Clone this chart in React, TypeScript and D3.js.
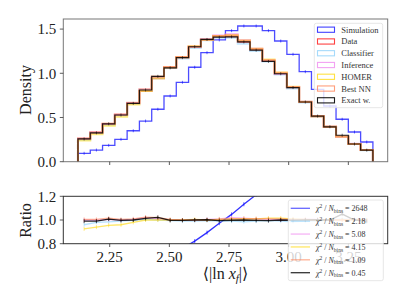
import React, { useEffect, useRef } from "react";
import * as d3 from "d3";

// binning of <|ln x_f|>
const binStart = 2.117;
const binWidth = 0.0515;

// densities
const dataDensity = [0.26, 0.33, 0.425, 0.53, 0.66, 0.8, 0.945, 1.065, 1.18, 1.3, 1.38, 1.415, 1.415, 1.355, 1.265, 1.14, 0.995, 0.84, 0.675, 0.515, 0.395, 0.285, 0.2, 0.132];
const simDensity = [0.095, 0.132, 0.185, 0.253, 0.35, 0.46, 0.593, 0.743, 0.898, 1.068, 1.233, 1.377, 1.482, 1.535, 1.535, 1.482, 1.365, 1.215, 1.018, 0.819, 0.63, 0.48, 0.336, 0.223];

// model / data ratios
const classifierRatio = [0.96, 0.98, 0.985, 0.99, 0.997, 1.005, 1.0, 0.995, 0.99, 0.99, 0.995, 0.99, 0.99, 0.985, 0.99, 0.995, 0.99, 0.985, 0.99, 0.99, 1.0, 1.01, 1.0, 0.99];
const inferenceRatio = [1.0, 0.998, 1.005, 1.0, 1.005, 1.02, 1.01, 1.0, 1.0, 1.0, 1.005, 1.01, 1.02, 1.015, 1.01, 1.005, 1.0, 1.005, 1.01, 1.005, 1.0, 1.0, 1.01, 1.0];
const homerRatio = [0.925, 0.94, 0.955, 0.96, 0.98, 1.0, 1.0, 1.0, 1.0, 1.005, 1.0, 1.005, 1.01, 1.012, 1.01, 1.015, 1.015, 1.01, 1.005, 1.0, 1.0, 1.0, 1.005, 1.0];
const bestNNRatio = [1.005, 1.005, 1.015, 1.005, 1.01, 1.025, 1.02, 1.005, 1.0, 1.0, 1.0, 1.005, 1.01, 1.01, 1.01, 1.01, 1.01, 1.005, 1.0, 1.0, 1.0, 1.0, 1.0, 1.0];
const exactRatio = [0.99, 0.99, 1.008, 0.997, 1.0, 1.014, 1.022, 0.997, 0.997, 1.0, 1.002, 0.995, 0.998, 1.0, 0.997, 0.995, 1.0, 0.998, 1.0, 1.002, 1.0, 1.05, 1.0, 0.99];

const chi2Labels = ["2648", "2.18", "5.08", "4.15", "1.09", "0.45"];
const legendNames = ["Simulation", "Data", "Classifier", "Inference", "HOMER", "Best NN", "Exact w."];

const xTicks = [2.25, 2.5, 2.75, 3.0, 3.25];
const yTicks = [0, 0.5, 1.0, 1.5];
const rTicks = [0.8, 1.0, 1.2];

const colors: Record<string, string> = {
  Simulation: "#0000ff",
  Data: "#ff0000",
  Classifier: "#87cefa",
  Inference: "#ee82ee",
  HOMER: "#ffd700",
  "Best NN": "#ff7f50",
  "Exact w.": "#000000",
};

const FONT = "'Liberation Serif', 'DejaVu Serif', serif";

export default function App() {
  const svgRef = useRef<SVGSVGElement | null>(null);

  useEffect(() => {
    const svg = d3.select(svgRef.current);
    svg.selectAll("*").remove();

    const left = 63.3, right = 387.7;
    const x = d3.scaleLinear().domain([2.0555, 3.415]).range([left, right]);
    const y = d3.scaleLinear().domain([0, 1.614]).range([161.7, 19]);
    const yr = d3.scaleLinear().domain([0.8, 1.2]).range([243.7, 196.3]);

    const edges = d3.range(dataDensity.length + 1).map((i) => binStart + i * binWidth);
    const centers = dataDensity.map((_, i) => binStart + (i + 0.5) * binWidth);

    const series = [
      { name: "Simulation", ratio: simDensity.map((v, i) => v / dataDensity[i]) },
      { name: "Data", ratio: dataDensity.map(() => 1) },
      { name: "Classifier", ratio: classifierRatio },
      { name: "Inference", ratio: inferenceRatio },
      { name: "HOMER", ratio: homerRatio },
      { name: "Best NN", ratio: bestNNRatio },
      { name: "Exact w.", ratio: exactRatio },
    ].map((s) => ({ ...s, values: s.ratio.map((r, i) => r * dataDensity[i]) }));

    const stepPath = (vals: number[]) => {
      let p = `M${x(edges[0])},${y(0)}`;
      vals.forEach((v, i) => {
        p += `L${x(edges[i])},${y(v)}L${x(edges[i + 1])},${y(v)}`;
      });
      p += `L${x(edges[edges.length - 1])},${y(0)}`;
      return p;
    };

    const style = (name: string) => {
      if (name === "Exact w.") return { w: 1.2, o: 0.85 };
      if (name === "Simulation") return { w: 1.3, o: 0.7 };
      return { w: 2, o: 0.5 };
    };

    // ---- top panel
    const top = svg.append("g");
    top.selectAll("path.hist")
      .data(series)
      .enter()
      .append("path")
      .attr("class", "hist")
      .attr("d", (d) => stepPath(d.values))
      .attr("fill", "none")
      .attr("stroke", (d) => colors[d.name])
      .attr("stroke-width", (d) => style(d.name).w)
      .attr("stroke-opacity", (d) => style(d.name).o);

    // error bars on simulation and exact
    series.filter((s) => s.name === "Simulation" || s.name === "Exact w.").forEach((s) => {
      top.selectAll(null)
        .data(s.values)
        .enter()
        .append("line")
        .attr("x1", (_, i) => x(centers[i]))
        .attr("x2", (_, i) => x(centers[i]))
        .attr("y1", (d) => y(d) - 1.5)
        .attr("y2", (d) => y(d) + 1.5)
        .attr("stroke", colors[s.name])
        .attr("stroke-opacity", 0.7)
        .attr("stroke-width", 0.8);
    });

    top.append("rect")
      .attr("x", left).attr("y", 19)
      .attr("width", right - left).attr("height", 161.7 - 19)
      .attr("fill", "none").attr("stroke", "#777").attr("stroke-width", 1);

    yTicks.forEach((t) => {
      top.append("line").attr("x1", left - 3.5).attr("x2", left).attr("y1", y(t)).attr("y2", y(t)).attr("stroke", "#333").attr("stroke-width", 0.8);
      top.append("text").attr("x", left - 7).attr("y", y(t)).attr("dy", "0.35em")
        .attr("text-anchor", "end").style("font-family", FONT).style("font-size", "15px").attr("fill", "#222")
        .text(d3.format(".1f")(t));
    });
    xTicks.forEach((t) => {
      top.append("line").attr("x1", x(t)).attr("x2", x(t)).attr("y1", 161.7).attr("y2", 165).attr("stroke", "#333").attr("stroke-width", 0.8);
    });

    top.append("text")
      .attr("transform", `translate(31,90) rotate(-90)`)
      .attr("text-anchor", "middle")
      .style("font-family", FONT).style("font-size", "16px").attr("fill", "#222")
      .text("Density");

    // top legend
    const lg = top.append("g");
    lg.append("rect").attr("x", 314.3).attr("y", 23.3).attr("width", 68.4).attr("height", 84.4)
      .attr("rx", 2).attr("fill", "white").attr("fill-opacity", 0.8).attr("stroke", "#e0e0e0").attr("stroke-width", 0.8);
    legendNames.forEach((n, i) => {
      const cy = 29.7 + i * 11.77;
      lg.append("rect").attr("x", 317.5).attr("y", cy - 2.6).attr("width", 17).attr("height", 5.2)
        .attr("fill", "none").attr("stroke", colors[n]).attr("stroke-width", 1.1)
        .attr("stroke-opacity", n === "Exact w." ? 0.9 : 0.75);
      lg.append("text").attr("x", 341.3).attr("y", cy).attr("dy", "0.35em")
        .style("font-family", FONT).style("font-size", "8.5px").attr("fill", "#333")
        .text(n);
    });

    // ---- ratio panel
    const bot = svg.append("g");
    const ratioSeries = series.filter((s) => s.name !== "Data");
    const line = d3.line<number>()
      .x((_, i) => x(centers[i]))
      .y((d) => yr(d));

    bot.append("defs").append("clipPath").attr("id", "rclip")
      .append("rect").attr("x", left).attr("y", 196.3).attr("width", right - left).attr("height", 243.7 - 196.3);

    const plot = bot.append("g").attr("clip-path", "url(#rclip)");
    ratioSeries.forEach((s) => {
      const o = s.name === "Exact w." ? 0.85 : s.name === "Simulation" ? 0.8 : 0.6;
      plot.append("path").attr("d", line(s.ratio) as string)
        .attr("fill", "none").attr("stroke", colors[s.name]).attr("stroke-width", 1.3).attr("stroke-opacity", o);
      plot.selectAll(null)
        .data(s.ratio)
        .enter()
        .append("line")
        .attr("x1", (_, i) => x(centers[i]))
        .attr("x2", (_, i) => x(centers[i]))
        .attr("y1", (d) => yr(d) - 2)
        .attr("y2", (d) => yr(d) + 2)
        .attr("stroke", colors[s.name]).attr("stroke-opacity", o).attr("stroke-width", 0.8);
    });

    bot.append("rect")
      .attr("x", left).attr("y", 196.3)
      .attr("width", right - left).attr("height", 243.7 - 196.3)
      .attr("fill", "none").attr("stroke", "#333").attr("stroke-width", 1);

    rTicks.forEach((t) => {
      bot.append("line").attr("x1", left - 3.5).attr("x2", left).attr("y1", yr(t)).attr("y2", yr(t)).attr("stroke", "#333").attr("stroke-width", 0.8);
      bot.append("text").attr("x", left - 7).attr("y", yr(t)).attr("dy", "0.35em")
        .attr("text-anchor", "end").style("font-family", FONT).style("font-size", "15px").attr("fill", "#222")
        .text(d3.format(".1f")(t));
    });
    xTicks.forEach((t) => {
      bot.append("line").attr("x1", x(t)).attr("x2", x(t)).attr("y1", 243.7).attr("y2", 247).attr("stroke", "#333").attr("stroke-width", 0.8);
      bot.append("text").attr("x", x(t)).attr("y", 262)
        .attr("text-anchor", "middle").style("font-family", FONT).style("font-size", "15px").attr("fill", "#222")
        .text(d3.format(".2f")(t));
    });

    bot.append("text")
      .attr("transform", `translate(31,220.5) rotate(-90)`)
      .attr("text-anchor", "middle")
      .style("font-family", FONT).style("font-size", "16px").attr("fill", "#222")
      .text("Ratio");

    const xl = bot.append("text").attr("x", 225.5).attr("y", 279)
      .attr("text-anchor", "middle").style("font-family", FONT).style("font-size", "16px").attr("fill", "#222");
    xl.append("tspan").text("⟨|ln ");
    xl.append("tspan").style("font-style", "italic").text("x");
    xl.append("tspan").style("font-style", "italic").style("font-size", "11px").attr("dy", 3).text("f");
    xl.append("tspan").attr("dy", -3).text("|⟩");

    // ratio legend
    const rl = bot.append("g");
    rl.append("rect").attr("x", 288.3).attr("y", 200).attr("width", 95).attr("height", 80.7)
      .attr("rx", 2).attr("fill", "white").attr("fill-opacity", 0.8).attr("stroke", "#e0e0e0").attr("stroke-width", 0.8);
    ratioSeries.forEach((s, i) => {
      const cy = 208.3 + i * 12.88;
      rl.append("line").attr("x1", 290.7).attr("x2", 310).attr("y1", cy).attr("y2", cy)
        .attr("stroke", colors[s.name]).attr("stroke-width", 1.3)
        .attr("stroke-opacity", s.name === "Exact w." ? 0.8 : 0.6);
      const t = rl.append("text").attr("x", 316).attr("y", cy).attr("dy", "0.35em")
        .style("font-family", FONT).style("font-size", "8px").attr("fill", "#333");
      t.append("tspan").style("font-style", "italic").text("χ");
      t.append("tspan").style("font-size", "5.5px").attr("dy", -3).text("2");
      t.append("tspan").attr("dy", 3).text(" / ");
      t.append("tspan").style("font-style", "italic").text("N");
      t.append("tspan").style("font-size", "5.5px").attr("dy", 1.8).text("bins");
      t.append("tspan").attr("dy", -1.8).text(` = ${chi2Labels[i]}`);
    });
  }, []);

  return (
    <svg
      ref={svgRef}
      width={407}
      height={305}
      style={{ position: "absolute", left: 0, top: 0, background: "white" }}
    ></svg>
  );
}
